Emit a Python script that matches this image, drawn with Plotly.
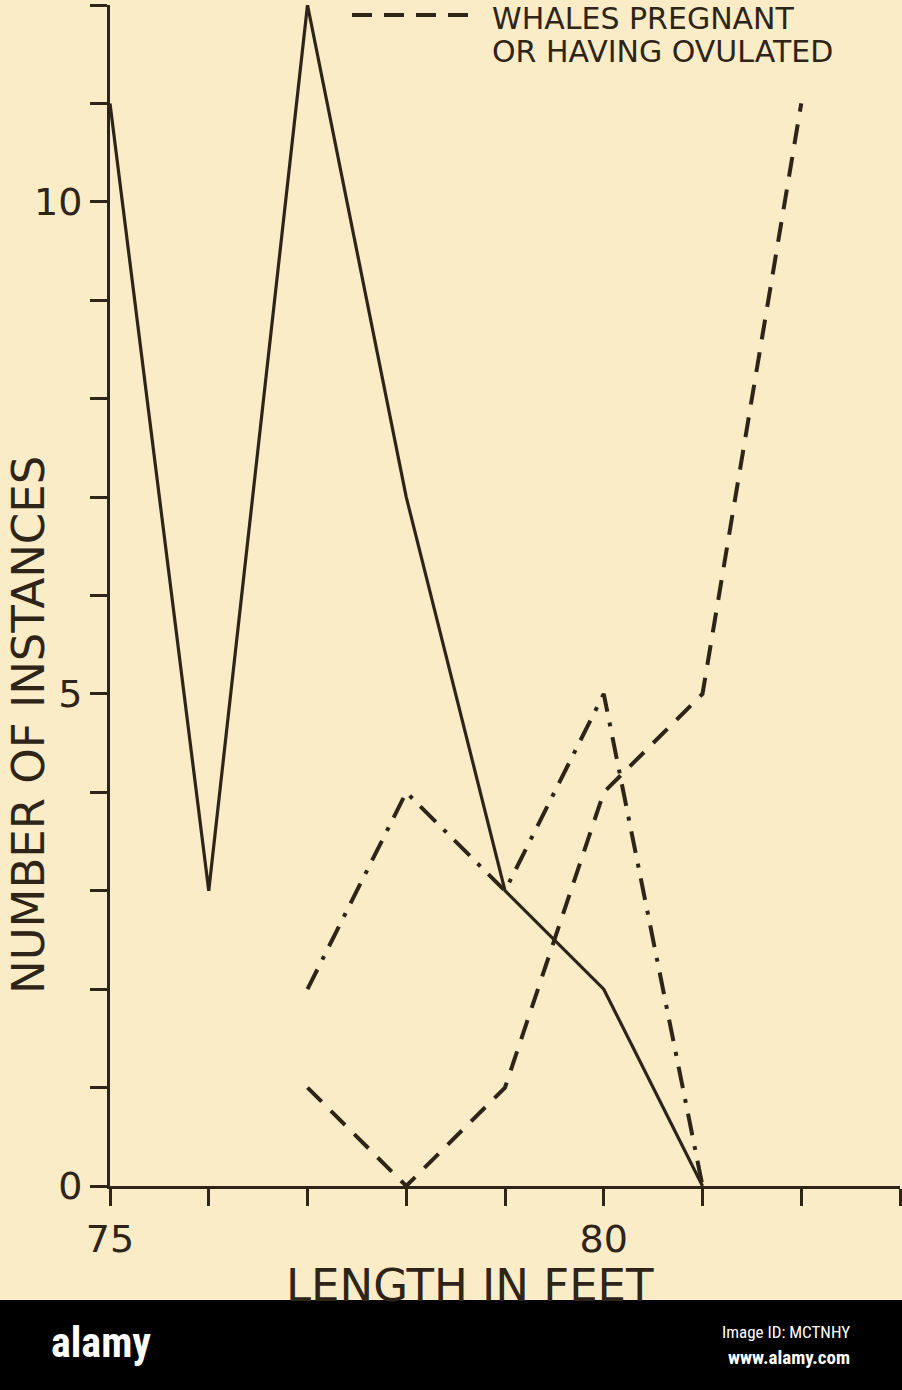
import plotly.graph_objects as go

# ---- data ----
lengths_solid = [75, 76, 77, 78, 79, 80, 81]
solid_values = [11, 3, 12, 7, 3, 2, 0]

lengths_dashdot = [77, 78, 79, 80, 81]
dashdot_values = [2, 4, 3, 5, 0]

lengths_dashed = [77, 78, 79, 80, 81, 82]
dashed_values = [1, 0, 1, 4, 5, 11]

x_tick_vals = [75, 76, 77, 78, 79, 80, 81, 82, 83]
x_tick_text = ["75", "", "", "", "", "80", "", "", ""]
y_tick_vals = [0, 1, 2, 3, 4, 5, 6, 7, 8, 9, 10, 11, 12]
y_tick_text = ["0", "", "", "", "", "5", "", "", "", "", "10", "", ""]

legend_label = ["WHALES PREGNANT", "OR HAVING OVULATED"]
x_title = "LENGTH IN FEET"
y_title = "NUMBER OF INSTANCES"

# ---- style ----
W, H = 902, 1390
ML, MR, MT, MB = 110, 2, 5, 204
BG = "#faecc7"
INK = "#2e2418"
FONT = "DejaVu Sans"

PW = W - ML - MR
PH = H - MT - MB


def px(x):
    return (x - ML) / PW


def py(y):
    return (H - MB - y) / PH


fig = go.Figure()

fig.add_trace(go.Scatter(
    x=lengths_solid, y=solid_values, mode="lines",
    line=dict(color=INK, width=3.2), cliponaxis=False, showlegend=False))
fig.add_trace(go.Scatter(
    x=lengths_dashdot, y=dashdot_values, mode="lines",
    line=dict(color=INK, width=4, dash="22px,11px,4px,11px"),
    cliponaxis=False, showlegend=False))
fig.add_trace(go.Scatter(
    x=lengths_dashed, y=dashed_values, mode="lines",
    line=dict(color=INK, width=4, dash="20px,13px"),
    cliponaxis=False, showlegend=False))

axis_common = dict(
    showgrid=False, zeroline=False, showline=True, linecolor=INK, linewidth=3,
    ticks="outside", ticklen=17, tickwidth=2.5, tickcolor=INK,
    tickfont=dict(family=FONT, size=38, color=INK),
)

fig.update_xaxes(range=[75, 83], tickmode="array", tickvals=x_tick_vals,
                 ticktext=x_tick_text, **axis_common)
fig.update_yaxes(range=[0, 12], tickmode="array", tickvals=y_tick_vals,
                 ticktext=y_tick_text, **axis_common)

shapes = [
    # legend sample
    dict(type="line", xref="paper", yref="paper",
         x0=px(352), x1=px(473), y0=py(15), y1=py(15),
         line=dict(color=INK, width=4, dash="20px,12px")),
    # bottom black banner
    dict(type="rect", xref="paper", yref="paper",
         x0=px(0) - 0.01, x1=px(W) + 0.01, y0=py(H) - 0.01, y1=py(1300),
         fillcolor="black", line=dict(width=0), layer="above"),
]

annotations = [
    dict(text=legend_label[0], x=px(490), y=py(18), xref="paper", yref="paper",
         xanchor="left", yanchor="middle", showarrow=False,
         font=dict(family=FONT, size=30, color=INK)),
    dict(text=legend_label[1], x=px(490), y=py(52), xref="paper", yref="paper",
         xanchor="left", yanchor="middle", showarrow=False,
         font=dict(family=FONT, size=30, color=INK)),
    dict(text=y_title, x=px(28), y=py(725), xref="paper", yref="paper",
         xanchor="center", yanchor="middle", textangle=-90, showarrow=False,
         font=dict(family=FONT, size=45, color=INK)),
    dict(text=x_title, x=px(470), y=py(1286), xref="paper", yref="paper",
         xanchor="center", yanchor="middle", showarrow=False,
         font=dict(family=FONT, size=45, color=INK)),
    dict(text="<b>alamy</b>", x=px(101), y=py(1342), xref="paper", yref="paper",
         xanchor="center", yanchor="middle", showarrow=False,
         font=dict(family="Roboto Condensed, Roboto", size=42, color="white")),
    dict(text="Image ID: MCTNHY", x=px(852), y=py(1332), xref="paper", yref="paper",
         xanchor="right", yanchor="middle", showarrow=False,
         font=dict(family="Roboto Condensed, Roboto", size=17, color="white")),
    dict(text="<b>www.alamy.com</b>", x=px(852), y=py(1357), xref="paper", yref="paper",
         xanchor="right", yanchor="middle", showarrow=False,
         font=dict(family="Roboto Condensed, Roboto", size=19, color="white")),
]

fig.update_layout(
    width=W, height=H,
    margin=dict(l=ML, r=MR, t=MT, b=MB),
    paper_bgcolor=BG, plot_bgcolor=BG,
    shapes=shapes, annotations=annotations,
    showlegend=False,
)

fig.write_html(
    "out.html",
    config={"responsive": False, "displayModeBar": False},
    post_script="document.body.style.margin='0';document.body.style.overflow='hidden';",
)
